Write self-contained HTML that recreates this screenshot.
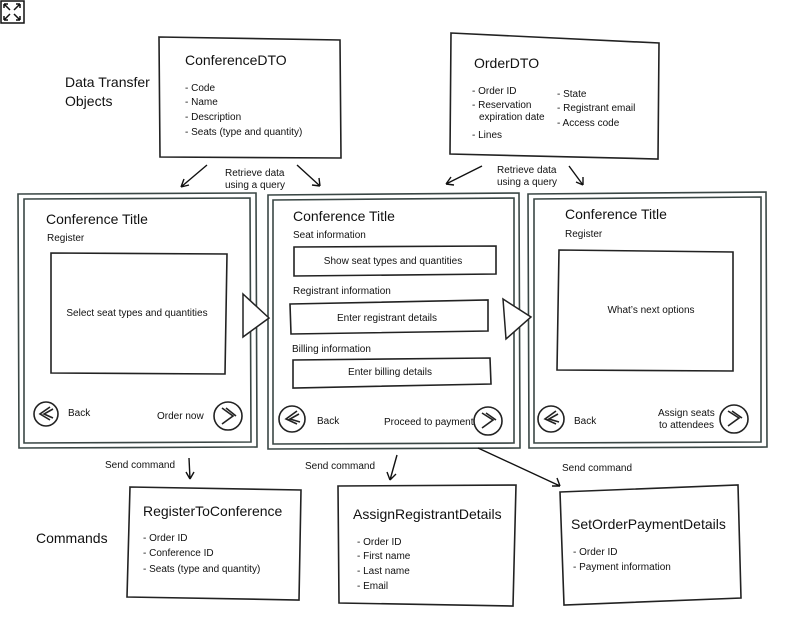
<!DOCTYPE html>
<html><head><meta charset="utf-8"><style>
html,body{margin:0;padding:0;background:#fff;}
svg{display:block;}
text{font-family:"Liberation Sans Narrow","Liberation Sans",sans-serif;fill:#111;}
.b{fill:none;stroke:#222;stroke-width:1.6;}
.f{fill:none;stroke:#3a4745;stroke-width:1.6;}
.a{fill:none;stroke:#111;stroke-width:1.4;}
</style></head><body>
<svg width="800" height="632" viewBox="0 0 800 632" xmlns="http://www.w3.org/2000/svg">
<rect x="1" y="1" width="23" height="22" fill="none" stroke="#111" stroke-width="1.5"/>
<path d="M4 4l6 6M4 4h4M4 4v4M20 4l-6 6M20 4h-4M20 4v4M4 20l6-6M4 20h4M4 20v-4M20 20l-6-6M20 20h-4M20 20v-4" stroke="#111" stroke-width="1.5" fill="none"/>

<text x="65" y="87" font-size="14">Data Transfer</text>
<text x="65" y="106" font-size="14">Objects</text>
<text x="36" y="543" font-size="14">Commands</text>

<path class="b" d="M159 37 L340 40 L341 158 L160 157 Z"/>
<text x="185" y="65" font-size="14">ConferenceDTO</text>
<text x="185" y="91" font-size="10">- Code</text>
<text x="185" y="105" font-size="10">- Name</text>
<text x="185" y="120" font-size="10">- Description</text>
<text x="185" y="135" font-size="10">- Seats (type and quantity)</text>

<path class="b" d="M451 33 L659 43 L658 159 L450 154 Z"/>
<text x="474" y="68" font-size="14">OrderDTO</text>
<text x="472" y="94" font-size="10">- Order ID</text>
<text x="472" y="108" font-size="10">- Reservation</text>
<text x="479" y="120" font-size="10">expiration date</text>
<text x="472" y="138" font-size="10">- Lines</text>
<text x="557" y="97" font-size="10">- State</text>
<text x="557" y="111" font-size="10">- Registrant email</text>
<text x="557" y="126" font-size="10">- Access code</text>

<path class="a" d="M207 165 L181 187 M181 187 l3-8 M181 187 l8-2"/>
<text x="225" y="176" font-size="10">Retrieve data</text>
<text x="225" y="188" font-size="10">using a query</text>
<path class="a" d="M297 165 L320 186 M320 186 l-8-1 M320 186 l-1-8"/>
<path class="a" d="M482 166 L446 184 M446 184 l5-7 M446 184 l8 1"/>
<text x="497" y="173" font-size="10">Retrieve data</text>
<text x="497" y="185" font-size="10">using a query</text>
<path class="a" d="M569 166 L583 185 M583 185 l-7-3 M583 185 l0-8"/>

<path class="f" d="M18 194 L256 193 L257 447 L19 448 Z"/>
<path class="f" d="M24 199 L250 198 L251 442 L24 443 Z"/>
<path class="f" d="M268 195 L519 193 L520 448 L268 449 Z"/>
<path class="f" d="M273 200 L514 198 L514 443 L273 444 Z"/>
<path class="f" d="M528 194 L766 192 L767 447 L529 448 Z"/>
<path class="f" d="M534 199 L761 197 L761 442 L534 443 Z"/>

<path fill="#fff" stroke="#222" stroke-width="1.5" d="M243 294 L269 318 L243 337 Z"/>
<path fill="#fff" stroke="#222" stroke-width="1.5" d="M503 299 L531 317 L506 339 Z"/>

<text x="46" y="224" font-size="14">Conference Title</text>
<text x="47" y="241" font-size="10">Register</text>
<path class="b" d="M51 253 L227 254 L225 374 L51 373 Z"/>
<text x="137" y="316" font-size="10" text-anchor="middle">Select seat types and quantities</text>
<circle cx="46" cy="414" r="12" class="b"/>
<path class="b" d="M50 407 L40 414 L50 420 M53 409 L44 414 L53 418"/>
<text x="68" y="416" font-size="10">Back</text>
<text x="157" y="419" font-size="10">Order now</text>
<circle cx="228" cy="416" r="14" class="b"/>
<path class="b" d="M222 408 L233 416 L222 424 M226 408 L236 416"/>

<text x="293" y="221" font-size="14">Conference Title</text>
<text x="293" y="238" font-size="10">Seat information</text>
<path class="b" d="M294 247 L496 246 L496 274 L294 276 Z"/>
<text x="393" y="264" font-size="10" text-anchor="middle">Show seat types and quantities</text>
<text x="293" y="294" font-size="10">Registrant information</text>
<path class="b" d="M290 304 L488 300 L488 331 L291 334 Z"/>
<text x="387" y="321" font-size="10" text-anchor="middle">Enter registrant details</text>
<text x="292" y="352" font-size="10">Billing information</text>
<path class="b" d="M293 360 L490 358 L491 384 L293 388 Z"/>
<text x="390" y="375" font-size="10" text-anchor="middle">Enter billing details</text>
<circle cx="292" cy="419" r="13" class="b"/>
<path class="b" d="M297 411 L286 419 L297 424 M299 414 L290 419 L300 422"/>
<text x="317" y="424" font-size="10">Back</text>
<text x="384" y="425" font-size="10">Proceed to payment</text>
<circle cx="488" cy="421" r="14" class="b"/>
<path class="b" d="M482 413 L493 420 L482 428 M486 413 L496 420"/>

<text x="565" y="219" font-size="14">Conference Title</text>
<text x="565" y="237" font-size="10">Register</text>
<path class="b" d="M559 250 L733 252 L733 371 L557 370 Z"/>
<text x="651" y="313" font-size="10" text-anchor="middle">What’s next options</text>
<circle cx="551" cy="419" r="13" class="b"/>
<path class="b" d="M556 411 L545 419 L556 424 M558 414 L549 419 L559 422"/>
<text x="574" y="424" font-size="10">Back</text>
<text x="658" y="416" font-size="10">Assign seats</text>
<text x="659" y="428" font-size="10">to attendees</text>
<circle cx="734" cy="419" r="14" class="b"/>
<path class="b" d="M728 411 L739 418 L728 426 M732 411 L742 418"/>

<text x="105" y="468" font-size="10">Send command</text>
<path class="a" d="M189 458 L190 479 M190 479 l-4-7 M190 479 l4-7"/>
<text x="305" y="469" font-size="10">Send command</text>
<path class="a" d="M397 455 L390 480 M390 480 l-3-8 M390 480 l6-6"/>
<path class="a" d="M478 448 L560 486 M560 486 l-8 0 M560 486 l-3-8"/>
<text x="562" y="471" font-size="10">Send command</text>

<path class="b" d="M130 487 L301 490 L299 600 L127 597 Z"/>
<text x="143" y="516" font-size="14">RegisterToConference</text>
<text x="143" y="541" font-size="10">- Order ID</text>
<text x="143" y="556" font-size="10">- Conference ID</text>
<text x="143" y="572" font-size="10">- Seats (type and quantity)</text>

<path class="b" d="M338 486 L516 485 L513 606 L339 603 Z" />
<text x="353" y="519" font-size="14">AssignRegistrantDetails</text>
<text x="357" y="545" font-size="10">- Order ID</text>
<text x="357" y="559" font-size="10">- First name</text>
<text x="357" y="574" font-size="10">- Last name</text>
<text x="357" y="589" font-size="10">- Email</text>

<path class="b" d="M560 492 L738 485 L741 598 L564 605 Z"/>
<text x="571" y="529" font-size="14">SetOrderPaymentDetails</text>
<text x="573" y="555" font-size="10">- Order ID</text>
<text x="573" y="570" font-size="10">- Payment information</text>
</svg>
</body></html>
